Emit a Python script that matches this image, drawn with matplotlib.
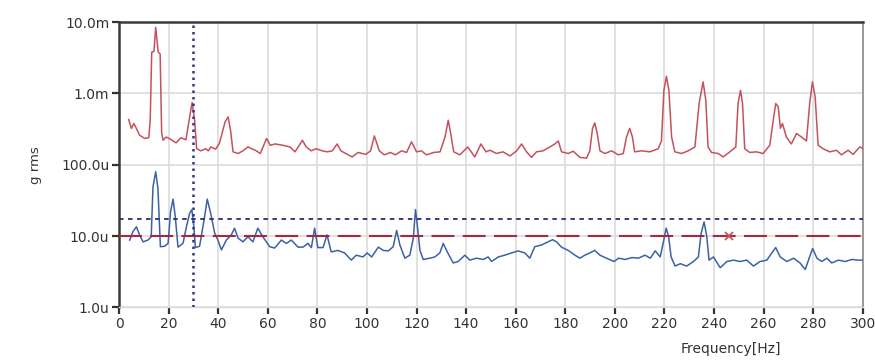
import numpy as np
import matplotlib
matplotlib.use("Agg")
import matplotlib.pyplot as plt
from matplotlib.ticker import FixedLocator, FixedFormatter

# red spectrum (upper trace), frequency in Hz, amplitude in micro-g rms
red_freq = [3.9, 5, 6, 7, 8.3, 10.4, 12.0, 12.6, 13.2, 14.1, 14.8, 15.8, 16.6, 17.2, 17.8, 19, 21, 23, 25, 27,
            28.5, 29.5, 30.5, 31.3, 33, 35, 36, 37, 39, 40.5, 42.8, 44, 45, 46, 48, 50, 52, 53.5, 55, 57,
            59.5, 61, 63, 66, 69, 71, 74, 75.5, 77.5, 79.5, 82, 84, 86, 88, 89.5, 91.5, 94, 96.5, 99.5, 101.5,
            103, 105, 107, 109.5, 111.5, 114, 116, 118, 120, 122, 124, 127, 129.5, 131.5, 132.8, 133.8, 135, 137.5, 140.7, 143.5,
            146, 148, 149.6, 152.3, 154.9, 157.7, 160.4, 162.4, 164.4, 166.4, 168.4, 171, 173.8, 175.8, 177.2, 178.5, 181.2, 183.2, 185.9, 188.6,
            189.9, 191, 191.9, 192.9, 194, 196, 198.7, 201.4, 203.4, 204.7, 206, 207.1, 208, 210.8, 214.1, 217.5, 218.8, 219.8, 220.8, 221.8,
            222.9, 224.2, 226.9, 229.6, 232.3, 234, 235.6, 236.7, 237.6, 239, 241.7, 243.7, 246.4, 248.8, 249.7, 250.7, 251.5, 252.4, 254.4, 257.1,
            259.8, 262.5, 263.9, 264.9, 265.9, 266.8, 267.6, 269.2, 271.2, 273.3, 275.3, 277.3, 278.6, 279.7, 280.8, 282, 284, 286.7, 289.4, 291.4,
            294.1, 296.1, 298.8, 300]
red_u = [432, 324, 380, 324, 260, 234, 240, 430, 3800, 3900, 8500, 3800, 3600, 280, 221, 245, 226, 203, 240, 224,
         470, 748, 422, 169, 157, 168, 157, 178, 166, 200, 400, 470, 305, 152, 144, 157, 178, 168, 160, 144,
         234, 188, 196, 188, 178, 152, 221, 178, 157, 168, 157, 152, 157, 196, 157, 144, 129, 149, 140, 157,
         254, 157, 138, 149, 138, 157, 149, 210, 152, 157, 138, 149, 152, 245, 422, 275, 152, 138, 178, 129,
         196, 152, 160, 144, 152, 133, 157, 196, 152, 127, 152, 157, 178, 196, 216, 152, 144, 155, 127, 124,
         157, 324, 387, 275, 157, 144, 157, 138, 144, 245, 324, 245, 152, 157, 152, 168, 216, 1110, 1745, 1110,
         245, 152, 144, 157, 178, 724, 1456, 806, 178, 149, 144, 129, 152, 178, 724, 1110, 724, 168, 149, 152,
         144, 188, 422, 724, 650, 324, 380, 245, 196, 275, 245, 216, 724, 1456, 896, 188, 168, 152, 160, 138,
         160, 140, 178, 170]

# blue spectrum (lower trace)
blue_freq = [4.3, 5.6, 7, 8.3, 9.7, 11.7, 13, 13.7, 14.8, 15.7, 16.7, 18.4, 19.8, 20.8, 21.8, 22.7, 23.8, 25.8, 27.2, 28.5,
             29.4, 30.2, 30.8, 32.5, 34.3, 35.6, 37, 38.6, 39.9, 41.3, 43.3, 45.3, 46.6, 48, 50, 52, 54, 56, 58, 60.8,
             62.8, 65.5, 67.5, 69.5, 72.2, 74.2, 76.2, 77.6, 78.9, 80.2, 82.3, 83.9, 85.6, 88.3, 91, 93.7, 95.7, 98.4, 100.1, 101.9,
             104.6, 106.6, 108.6, 110.6, 112, 113.3, 115.3, 117.3, 118.7, 119.6, 120.4, 121.4, 122.7, 125.4, 127.4, 129.4, 130.8, 132.1, 134.8, 136.8,
             139.5, 141.5, 144.2, 146.9, 148.9, 150.3, 153, 155.6, 158.3, 161, 163.7, 165.7, 167.7, 170.4, 173.1, 174.9, 176.5, 178.5, 181.2, 183.9,
             185.9, 187.9, 189.9, 191.9, 194, 196.6, 199.7, 201.5, 204.2, 206.9, 209.5, 212.2, 214.3, 216.3, 218.3, 219.6, 220.7, 221.7, 222.7, 224.3,
             226.4, 229, 231.7, 233.7, 234.8, 236, 237.1, 238, 239.8, 242.5, 245.2, 247.9, 250.5, 253.2, 255.9, 258.6, 261.3, 263.3, 264.9, 266.7,
             269.4, 272.1, 274.7, 276.8, 278.8, 279.8, 281.5, 283.5, 285.5, 287.5, 290.2, 292.9, 295.6, 298.3, 300]
blue_u = [8.8, 11.5, 13.5, 10.4, 8.3, 8.8, 9.8, 49, 80, 47, 7.1, 7.2, 7.9, 22, 33, 18.7, 7.0, 7.9, 13.5, 21,
          23.5, 13.5, 6.9, 7.2, 16.7, 33, 20.7, 11, 8.8, 6.4, 8.8, 10.4, 12.9, 9.4, 8.3, 9.8, 8.3, 12.9, 9.8, 7.1,
          6.8, 8.8, 7.9, 8.8, 7.0, 7.0, 7.9, 6.9, 12.9, 6.9, 6.9, 10.4, 6.0, 6.3, 5.8, 4.6, 5.4, 5.1, 5.8, 5.1,
          7.0, 6.3, 6.2, 7.1, 12.0, 7.5, 4.9, 5.4, 9.3, 23.5, 13.5, 6.3, 4.7, 4.9, 5.1, 5.8, 7.9, 6.3, 4.2, 4.4,
          5.4, 4.6, 4.9, 4.7, 5.1, 4.4, 5.1, 5.4, 5.8, 6.2, 5.8, 4.9, 7.1, 7.5, 8.3, 8.9, 8.3, 7.0, 6.3, 5.4,
          4.9, 5.4, 5.8, 6.3, 5.4, 4.9, 4.4, 4.9, 4.7, 5.0, 4.9, 5.4, 4.9, 6.2, 5.1, 8.3, 12.9, 9.8, 5.1, 3.8,
          4.1, 3.8, 4.4, 5.1, 10.9, 15.8, 9.8, 4.6, 5.1, 3.6, 4.4, 4.6, 4.4, 4.6, 3.8, 4.4, 4.6, 5.8, 6.9, 5.1,
          4.4, 4.9, 4.2, 3.4, 5.4, 6.7, 4.9, 4.4, 4.9, 4.2, 4.6, 4.4, 4.7, 4.6, 4.6]

# reference lines / cursor
limit_u = 10.0
alarm_u = 17.2
cursor_hz = 30
marker_hz = 246

x_ticks = list(range(0, 301, 20))
y_ticks = [1e-6, 1e-5, 1e-4, 1e-3, 1e-2]
y_labels = ["1.0u", "10.0u", "100.0u", "1.0m", "10.0m"]

fig = plt.figure(figsize=(8.75, 3.61), dpi=100)
ax = fig.add_axes([0.136, 0.1485, 0.850, 0.790])

red = np.array(red_u) * 1e-6
blue = np.array(blue_u) * 1e-6

ax.plot(red_freq, red, color="#c4525c", lw=1.1, zorder=3)
ax.plot(blue_freq, blue, color="#3b62a6", lw=1.1, zorder=3)

ax.axhline(limit_u * 1e-6, color="#a8283a", lw=1.5, dashes=(11, 4), zorder=4)
ax.axhline(alarm_u * 1e-6, color="#2c2c6e", lw=1.3, dashes=(2.5, 2.5), zorder=4)
ax.axvline(cursor_hz, color="#33338a", lw=1.8, dashes=(1, 1.6), zorder=5)
ax.plot([marker_hz], [limit_u * 1e-6], marker="x", color="#c4525c", ms=6, mew=1.3, zorder=5)

ax.set_yscale("log")
ax.set_xlim(0, 300)
ax.set_ylim(1e-6, 1e-2)
ax.xaxis.set_major_locator(FixedLocator(x_ticks))
ax.yaxis.set_major_locator(FixedLocator(y_ticks))
ax.yaxis.set_major_formatter(FixedFormatter(y_labels))
ax.yaxis.set_minor_locator(FixedLocator([]))
ax.grid(True, color="#dcdcdc", lw=1.2, zorder=0)
ax.set_axisbelow(True)

for side in ["left", "top"]:
    ax.spines[side].set_color("#3a3a3a")
    ax.spines[side].set_linewidth(1.8)
ax.spines["right"].set_color("#8a8a8a")
ax.spines["right"].set_linewidth(1.2)
ax.spines["bottom"].set_color("#dcdcdc")
ax.spines["bottom"].set_linewidth(1.0)

ax.tick_params(axis="both", colors="#333333", labelcolor="#333333", labelsize=10,
               length=6, width=1.6, direction="out")
ax.tick_params(axis="y", pad=2, length=5)
ax.tick_params(axis="x", pad=2, length=5)

ax.set_ylabel("g rms", fontsize=9.5, color="#333333", labelpad=14)
ax.set_xlabel("Frequency[Hz]", fontsize=10, color="#333333")
ax.xaxis.set_label_coords(0.823, -0.12)

fig.savefig("out.png", dpi=100)
